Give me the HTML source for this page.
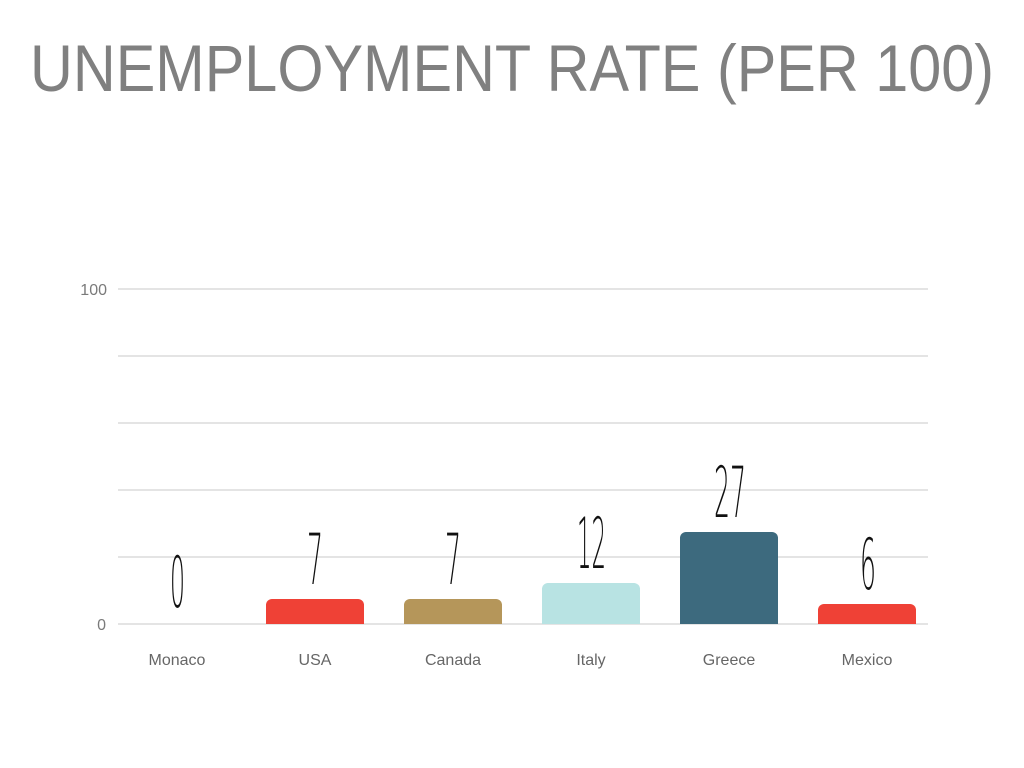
<!DOCTYPE html>
<html><head><style>body{margin:0;background:#fff}svg{display:block}</style></head><body>
<svg width="1024" height="768" xmlns="http://www.w3.org/2000/svg">
<text x="512" y="91" text-anchor="middle" font-family="Liberation Sans, sans-serif" font-size="66" fill="#808080" textLength="964" lengthAdjust="spacingAndGlyphs">UNEMPLOYMENT RATE (PER 100)</text>
<g stroke="#dcdcdc" stroke-width="1.5">
<line x1="118" x2="928" y1="289" y2="289"/><line x1="118" x2="928" y1="356" y2="356"/><line x1="118" x2="928" y1="423" y2="423"/><line x1="118" x2="928" y1="490" y2="490"/><line x1="118" x2="928" y1="557" y2="557"/><line x1="118" x2="928" y1="624" y2="624"/>
</g>
<g font-family="Liberation Sans, sans-serif" font-size="16" fill="#7a7a7a" text-anchor="end">
<text x="107" y="295">100</text><text x="106" y="630">0</text>
</g>
<path d="M266,624V605a6,6 0 0 1 6,-6H358a6,6 0 0 1 6,6V624Z" fill="#ef4136"/>
<path d="M404,624V605a6,6 0 0 1 6,-6H496a6,6 0 0 1 6,6V624Z" fill="#b5965a"/>
<path d="M542,624V589a6,6 0 0 1 6,-6H634a6,6 0 0 1 6,6V624Z" fill="#b8e3e3"/>
<path d="M680,624V538a6,6 0 0 1 6,-6H772a6,6 0 0 1 6,6V624Z" fill="#3d6a7e"/>
<path d="M818,624V610a6,6 0 0 1 6,-6H910a6,6 0 0 1 6,6V624Z" fill="#ef4136"/>
<g font-family="DejaVu Sans ExtraLight, DejaVu Sans, sans-serif" font-size="70" fill="#111" font-weight="200">
<text x="170" y="607" textLength="15" lengthAdjust="spacingAndGlyphs">0</text>
<text x="307" y="584" textLength="16" lengthAdjust="spacingAndGlyphs">7</text>
<text x="445" y="584" textLength="16" lengthAdjust="spacingAndGlyphs">7</text>
<text x="577" y="568" textLength="29" lengthAdjust="spacingAndGlyphs">12</text>
<text x="714" y="517" textLength="32" lengthAdjust="spacingAndGlyphs">27</text>
<text x="860" y="589" textLength="16" lengthAdjust="spacingAndGlyphs">6</text>
</g>
<g font-family="Liberation Sans, sans-serif" font-size="16" fill="#666" text-anchor="middle">
<text x="177" y="665">Monaco</text><text x="315" y="665">USA</text><text x="453" y="665">Canada</text><text x="591" y="665">Italy</text><text x="729" y="665">Greece</text><text x="867" y="665">Mexico</text>
</g>
</svg>
</body></html>
